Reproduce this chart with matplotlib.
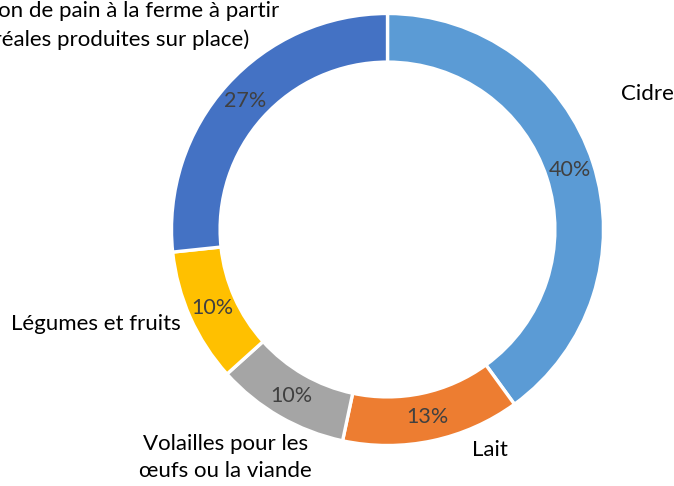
import matplotlib
matplotlib.use("Agg")
import matplotlib.pyplot as plt

# data (counts, shown as percentages)
categories = ["Cidre", "Lait", "Volailles pour les\nœufs ou la viande", "Légumes et fruits",
              "Boulangerie\n(fabrication de pain à la ferme à partir\nde céréales produites sur place)"]
counts = [12, 4, 3, 3, 8]
colors = ["#5B9BD5", "#ED7D31", "#A5A5A5", "#FFC000", "#4472C4"]

plt.rcParams['font.family'] = ['Lato', 'DejaVu Sans']

W, H = 674, 486
fig = plt.figure(figsize=(W / 100, H / 100), dpi=100)
ax = fig.add_axes([0, 0, 1, 1])

cx, cy, R = 387.5, H - 229.5, 216

wedges, texts, autotexts = ax.pie(
    counts, colors=colors, startangle=90, counterclock=False,
    center=(cx, cy), radius=R, frame=True,
    autopct=lambda p: f"{p:.0f}%", pctdistance=0.889,
    wedgeprops=dict(width=R * 0.225, edgecolor="white", linewidth=2.4),
    textprops=dict(fontsize=15.5, color="#404040"),
)
ax.set_xlim(0, W)
ax.set_ylim(0, H)
ax.axis("off")

# outside category labels (offsets from chart centre, in pixels)
label_pos = [(233, 135, "left"), (84, -221, "left"), (-162, -228, "center"),
             (-207, -94, "right"), (-292, 218, "center")]
for name, (dx, dy, ha) in zip(categories, label_pos):
    ax.text(cx + dx, cy + dy, name, ha=ha, va="center", fontsize=16,
            color="black", linespacing=1.45)

fig.savefig("out.png", dpi=100)
